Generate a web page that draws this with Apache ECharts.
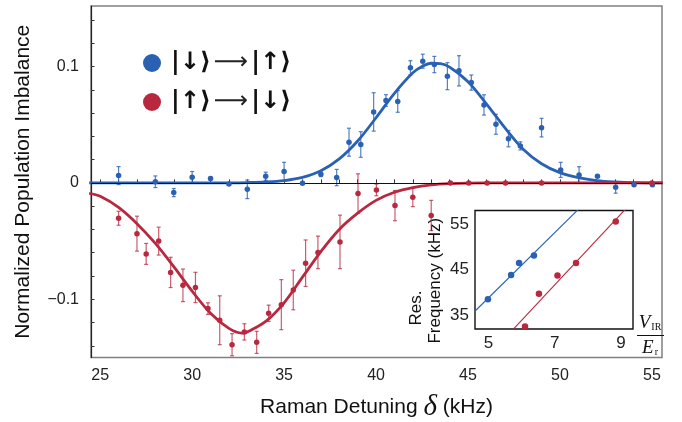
<!DOCTYPE html>
<html>
<head>
<meta charset="utf-8">
<script src="https://cdn.jsdelivr.net/npm/echarts@6/dist/echarts.min.js"></script>
<style>
html,body{margin:0;padding:0;background:#fff;}
#main{width:682px;height:422px;}
</style>
</head>
<body>
<div id="main"></div>
<script>
// ---------- data ----------
const blueX = [26, 28, 29, 30, 31, 32, 33, 34, 35, 36, 37, 37.86, 38.53, 39.17, 39.87, 40.54, 41.18, 41.87, 42.54, 43.17, 43.88, 44.51, 45.18, 45.87, 46.52, 47.2, 47.85, 49.0, 50.04, 51.04, 52.04, 53.03, 54.03, 55.03];
const blueY = [0.0063, 0.001, -0.0083, 0.0048, 0.0037, -0.001, -0.0055, 0.0057, 0.0097, -0.0003, 0.0074, 0.0046, 0.035, 0.033, 0.061, 0.0708, 0.070, 0.099, 0.1046, 0.1017, 0.0917, 0.0963, 0.0862, 0.067, 0.0504, 0.038, 0.0318, 0.0475, 0.0112, 0.0069, 0.0057, -0.0038, -0.0015, -0.0015];
const blueErr = [0.0077, 0.005, 0.0035, 0.005, 0.0012, 0.001, 0.008, 0.0035, 0.008, 0.001, 0.002, 0.007, 0.012, 0.011, 0.0165, 0.005, 0.0093, 0.006, 0.006, 0.007, 0.0116, 0.013, 0.0065, 0.0087, 0.0086, 0.007, 0.0035, 0.008, 0.0065, 0.007, 0.001, 0.005, 0.0015, 0.001];

const redX = [26.0, 27.0, 27.5, 28.18, 28.83, 29.5, 30.18, 30.86, 31.5, 32.17, 32.84, 33.51, 34.16, 34.85, 35.5, 36.17, 36.84, 38.04, 39.02, 40.02, 41.03, 42.0, 43.0, 44.04, 45.04, 46.04, 47.04, 49.0, 55.0];
const redY = [-0.0304, -0.0436, -0.061, -0.050, -0.0769, -0.088, -0.0898, -0.108, -0.118, -0.139, -0.128, -0.137, -0.112, -0.1046, -0.092, -0.069, -0.0597, -0.0507, -0.0092, -0.006, -0.0195, -0.0124, -0.028, 0, 0, 0, 0, 0, 0];
const redErr = [0.006, 0.015, 0.009, 0.012, 0.013, 0.014, 0.013, 0.005, 0.021, 0.0095, 0.007, 0.0095, 0.007, 0.0215, 0.017, 0.02, 0.014, 0.023, 0.017, 0.005, 0.013, 0.008, 0.013, 0, 0, 0, 0, 0, 0];

const blueFitX = [24.4, 30, 32, 33, 34, 35, 36, 37, 38, 39, 40, 41, 42, 42.5, 43, 43.5, 44, 45, 46, 47, 48, 49, 50, 51, 52, 53, 54, 55.6];
const blueFitY = [0, 0, 0.0001, 0.0003, 0.0008, 0.002, 0.0047, 0.0104, 0.0206, 0.036, 0.056, 0.077, 0.0946, 0.1, 0.1028, 0.1025, 0.0995, 0.087, 0.068, 0.0475, 0.029, 0.0165, 0.0088, 0.0045, 0.002, 0.0008, 0.0002, 0];

const redFitX = [24.4, 25, 26, 27, 28, 29, 30, 31, 32, 32.7, 33, 34, 35, 36, 37, 38, 39, 40, 41, 42, 43, 44, 45, 46, 55.6];
const redFitY = [-0.009, -0.0115, -0.021, -0.035, -0.052, -0.072, -0.093, -0.112, -0.125, -0.129, -0.128, -0.119, -0.103, -0.081, -0.059, -0.040, -0.026, -0.015, -0.008, -0.004, -0.0017, -0.0006, -0.0001, 0, 0];

const xTickLabels = [25, 30, 35, 40, 45, 50, 55];
const xTickValues = [25,26,27,28,29,30,31,32,33,34,35,36,37,38,39,40,41,42,43,44,45,46,47,48,49,50,51,52,53,54,55];
const yTickLabels = [-0.1, 0, 0.1];
const yTickValues = [-0.14,-0.12,-0.1,-0.08,-0.06,-0.04,-0.02,0,0.02,0.04,0.06,0.08,0.1,0.12,0.14];

// inset
const insetBlueX = [4.98, 5.68, 5.92, 6.37];
const insetBlueY = [38.47, 43.83, 46.47, 48.13];
const insetBlueErr = [1.5, 0.3, 0.3, 0.3];
const insetRedX = [6.10, 6.52, 7.08, 7.64, 8.84];
const insetRedY = [32.43, 39.68, 43.75, 46.47, 55.68];
const insetBlueLineX = [4.5, 7.8];
const insetBlueLineY = [35.2, 59.0];
const insetRedLineX = [5.6, 9.4];
const insetRedLineY = [30.7, 60.5];
const insetXTickLabels = [5, 7, 9];
const insetYTickLabels = [35, 45, 55];

const legendBlue = '|↓⟩ ⟶ |↑⟩';
const legendRed = '|↑⟩ ⟶ |↓⟩';

// ---------- chart ----------
const BLUE = '#2a61b3', RED = '#b8283f';
const BLUE_E = 'rgba(42,97,179,0.8)', RED_E = 'rgba(184,40,63,0.75)';
const FONT = 'Liberation Sans';

function zip(xs, ys) { return xs.map((x, i) => [x, ys[i]]); }
function errData(xs, ys, es) {
  const out = [];
  xs.forEach((x, i) => { if (es[i] > 0) out.push([x, ys[i] - es[i], ys[i] + es[i]]); });
  return out;
}
function errSeries(data, color, xi, yi, cap) {
  return {
    type: 'custom', xAxisIndex: xi, yAxisIndex: yi, silent: true, z: 3,
    encode: { x: 0, y: [1, 2] },
    data: data,
    renderItem: function (params, api) {
      const x = api.value(0);
      const a = api.coord([x, api.value(2)]);
      const b = api.coord([x, api.value(1)]);
      const st = { stroke: color, lineWidth: 1.2 };
      return { type: 'group', children: [
        { type: 'line', shape: { x1: a[0], y1: a[1], x2: b[0], y2: b[1] }, style: st },
        { type: 'line', shape: { x1: a[0] - cap, y1: a[1], x2: a[0] + cap, y2: a[1] }, style: st },
        { type: 'line', shape: { x1: b[0] - cap, y1: b[1], x2: b[0] + cap, y2: b[1] }, style: st }
      ]};
    }
  };
}
function fmtMinus(v) { return v < 0 ? '\u2212' + Math.abs(v) : String(v); }

const chart = echarts.init(document.getElementById('main'), null, { renderer: 'canvas' });

const ketRich = {
  k: { fontFamily: 'DejaVu Sans', fontSize: 24, fontWeight: 'bold', color: '#111', lineHeight: 28 },
  a: { fontFamily: 'DejaVu Sans', fontSize: 24, color: '#222', padding: [0, 3, 0, 3], lineHeight: 28 }
};

const option = {
  backgroundColor: '#fff',
  animation: false,
  textStyle: { fontFamily: FONT },
  legend: {
    data: [legendBlue, legendRed],
    orient: 'vertical',
    left: 143, top: 51, padding: 0,
    icon: 'circle', itemWidth: 18, itemHeight: 18, itemGap: 15,
    formatter: function (name) {
      const p = name.split(' ⟶ ');
      return '{k|' + p[0] + '}{a|⟶}{k|' + p[1] + '}';
    },
    textStyle: { rich: ketRich, padding: [0, 0, 0, 5] }
  },
  grid: [
    { left: 91, right: 20, top: 6, bottom: 64.5, show: true, borderColor: '#808080', borderWidth: 1.5,
      backgroundColor: 'transparent', containLabel: false, outerBoundsMode: 'none' },
    { left: 475, right: 49, top: 210.5, bottom: 93, show: true, borderColor: '#111', borderWidth: 1.4,
      backgroundColor: '#fff', z: 5, containLabel: false, outerBoundsMode: 'none' }
  ],
  xAxis: [
    {
      type: 'value', gridIndex: 0, min: 24.5, max: 55.55,
      name: '{t|Raman Detuning }{d|δ}{t| (kHz)}', nameLocation: 'middle', nameGap: 35,
      nameTextStyle: { rich: {
        t: { fontFamily: FONT, fontSize: 21, color: '#111' },
        d: { fontFamily: 'Liberation Serif', fontStyle: 'italic', fontSize: 29, color: '#111' }
      } },
      axisLine: { lineStyle: { color: '#222', width: 1.2 } },
      axisTick: { inside: true, length: 3.5, customValues: xTickValues, lineStyle: { color: '#333' } },
      axisLabel: { customValues: xTickLabels, fontSize: 16, color: '#222', margin: 10, fontFamily: FONT },
      splitLine: { show: false }
    },
    {
      type: 'value', gridIndex: 1, min: 4.59, max: 9.36,
      axisLine: { show: false },
      axisTick: { show: false },
      axisLabel: { customValues: insetXTickLabels, fontSize: 17, color: '#222', margin: 6, fontFamily: FONT },
      splitLine: { show: false }
    }
  ],
  yAxis: [
    {
      type: 'value', gridIndex: 0, min: -0.15, max: 0.152,
      name: 'Normalized Population Imbalance', nameLocation: 'middle', nameGap: 57, nameRotate: 90,
      nameTextStyle: { fontFamily: FONT, fontSize: 21, color: '#111' },
      axisLine: { lineStyle: { color: '#222', width: 1.2 } },
      axisTick: { inside: true, length: 3.5, customValues: yTickValues, lineStyle: { color: '#333' } },
      axisLabel: { customValues: yTickLabels, formatter: fmtMinus, fontSize: 16, color: '#222', margin: 12, fontFamily: FONT },
      splitLine: { show: false }
    },
    {
      type: 'value', gridIndex: 1, min: 31.9, max: 58.1,
      name: 'Frequency (kHz)', nameLocation: 'middle', nameGap: 31, nameRotate: 90,
      nameTextStyle: { fontFamily: FONT, fontSize: 17, color: '#111', padding: [0, 22, 0, 0] },
      axisLine: { show: false },
      axisTick: { show: false },
      axisLabel: { customValues: insetYTickLabels, fontSize: 17, color: '#222', margin: 6, fontFamily: FONT },
      splitLine: { show: false }
    }
  ],
  graphic: [
    { type: 'text', x: 416, y: 308, rotation: Math.PI / 2, z: 100,
      style: { text: 'Res.', font: '17px "Liberation Sans"', fill: '#111', align: 'center', verticalAlign: 'middle' } },
    { type: 'text', x: 650, y: 323, z: 100,
      style: { text: '{i|V}{s|IR}', align: 'center', verticalAlign: 'middle',
        rich: { i: { fontFamily: 'Liberation Serif', fontStyle: 'italic', fontSize: 19, fill: '#111' },
                s: { fontFamily: 'Liberation Serif', fontSize: 10, fill: '#111', padding: [8, 0, 0, 1] } } } },
    { type: 'line', z: 100, shape: { x1: 637, y1: 335.5, x2: 664, y2: 335.5 }, style: { stroke: '#111', lineWidth: 1 } },
    { type: 'text', x: 650, y: 348, z: 100,
      style: { text: '{i|E}{s|r}', align: 'center', verticalAlign: 'middle',
        rich: { i: { fontFamily: 'Liberation Serif', fontStyle: 'italic', fontSize: 19, fill: '#111' },
                s: { fontFamily: 'Liberation Serif', fontSize: 10, fill: '#111', padding: [8, 0, 0, 1] } } } }
  ],
  series: [
    { type: 'line', data: [], xAxisIndex: 0, yAxisIndex: 0, silent: true, z: 1,
      markLine: { silent: true, symbol: 'none', label: { show: false },
        lineStyle: { color: '#111', width: 1.2, type: 'solid' }, data: [{ yAxis: 0 }] } },
    errSeries(errData(blueX, blueY, blueErr), BLUE_E, 0, 0, 2),
    errSeries(errData(redX, redY, redErr), RED_E, 0, 0, 2),
    { type: 'line', name: 'blue fit', data: zip(blueFitX, blueFitY), xAxisIndex: 0, yAxisIndex: 0,
      smooth: 0.35, symbol: 'none', clip: true, lineStyle: { color: BLUE, width: 2.8 }, z: 4 },
    { type: 'line', name: 'red fit', data: zip(redFitX, redFitY), xAxisIndex: 0, yAxisIndex: 0,
      smooth: 0.35, symbol: 'none', clip: true, lineStyle: { color: RED, width: 2.8 }, z: 4 },
    { type: 'scatter', name: legendBlue, data: zip(blueX, blueY), xAxisIndex: 0, yAxisIndex: 0,
      symbolSize: 5.5, itemStyle: { color: BLUE, opacity: 1 }, z: 5 },
    { type: 'scatter', name: legendRed, data: zip(redX, redY), xAxisIndex: 0, yAxisIndex: 0,
      symbolSize: 5.5, itemStyle: { color: RED, opacity: 1 }, z: 5 },
    // inset
    errSeries(errData(insetBlueX, insetBlueY, insetBlueErr), BLUE, 1, 1, 2),
    { type: 'line', data: zip(insetBlueLineX, insetBlueLineY), xAxisIndex: 1, yAxisIndex: 1,
      symbol: 'none', clip: true, lineStyle: { color: BLUE, width: 1.1 }, z: 6 },
    { type: 'line', data: zip(insetRedLineX, insetRedLineY), xAxisIndex: 1, yAxisIndex: 1,
      symbol: 'none', clip: true, lineStyle: { color: RED, width: 1.1 }, z: 6 },
    { type: 'scatter', data: zip(insetBlueX, insetBlueY), xAxisIndex: 1, yAxisIndex: 1,
      symbolSize: 6.5, itemStyle: { color: BLUE, opacity: 1 }, z: 7 },
    { type: 'scatter', data: zip(insetRedX, insetRedY), xAxisIndex: 1, yAxisIndex: 1,
      symbolSize: 6.5, itemStyle: { color: RED, opacity: 1 }, z: 7 }
  ]
};
chart.setOption(option);
</script>
</body>
</html>
